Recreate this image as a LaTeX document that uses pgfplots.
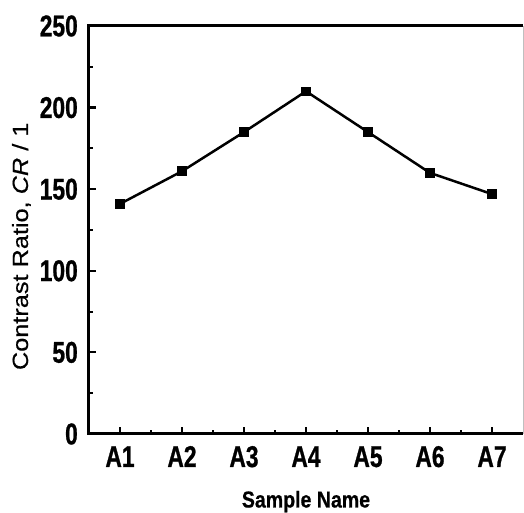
\documentclass[border=0pt]{standalone}
\usepackage{fontspec}
\setmainfont{Liberation Sans}
\newfontfamily\tickfont{Liberation Sans}[FakeStretch=0.76, FakeBold=0.8]
\newfontfamily\xlabfont{Liberation Sans}[FakeStretch=0.85, FakeBold=0.6]
\newfontfamily\ylabfont{Liberation Sans}[FakeStretch=1.15, FakeBold=0.5]
\usepackage{pgfplots}
\pgfplotsset{compat=1.18}
\begin{document}
\begin{tikzpicture}
\begin{axis}[
  scale only axis,
  width=434pt, height=408pt,
  xmin=0.5, xmax=7.5,
  ymin=0, ymax=250,
  xtick={1,2,3,4,5,6,7},
  xticklabels={A1,A2,A3,A4,A5,A6,A7},
  minor xtick={1.5,2.5,3.5,4.5,5.5,6.5},
  ytick={0,50,100,150,200,250},
  minor y tick num=1,
  xtick pos=bottom, ytick pos=left,
  tick align=inside,
  major tick length=7pt,
  minor tick length=4pt,
  every tick/.style={black, line width=2.2pt},
  every minor tick/.style={black, line width=2pt},
  axis line style={draw=none},
  /pgf/number format/assume math mode=true,
  ticklabel style={font=\tickfont\fontsize{30}{32}\selectfont\bfseries},
  yticklabel style={inner sep=0pt, anchor=east, xshift=-11pt},
  xticklabel style={inner sep=0pt, anchor=base, yshift=-33pt},
  xlabel={\xlabfont\fontsize{23}{25}\selectfont\bfseries Sample Name},
  xlabel style={at={(axis description cs:0.5,0)}, anchor=base, yshift=-73.5pt, inner sep=0pt},
  ylabel={\ylabfont\fontsize{22}{24}\selectfont Contrast Ratio, \textit{CR} / 1},
  ylabel style={at={(axis description cs:-0.1406,0.46)}, anchor=base, inner sep=0pt},
  clip=false,
]
\addplot[black, line width=2.5pt, mark=square*, mark size=3.5pt, mark options={solid}]
  coordinates {(1,141) (2,161) (3,185) (4,210) (5,185) (6,160) (7,147)};
\draw[line width=3pt, black] (rel axis cs:1,1) -- (rel axis cs:0,1) -- (rel axis cs:0,0) -- (rel axis cs:1,0);
\draw[line width=0.8pt, gray!50] (rel axis cs:1,0) -- (rel axis cs:1,1);
\end{axis}
\pgfresetboundingbox
\path[use as bounding box] (current axis.south west) ++(-89pt,-79pt) rectangle ([xshift=1pt,yshift=26pt]current axis.north east);
\end{tikzpicture}
\end{document}
